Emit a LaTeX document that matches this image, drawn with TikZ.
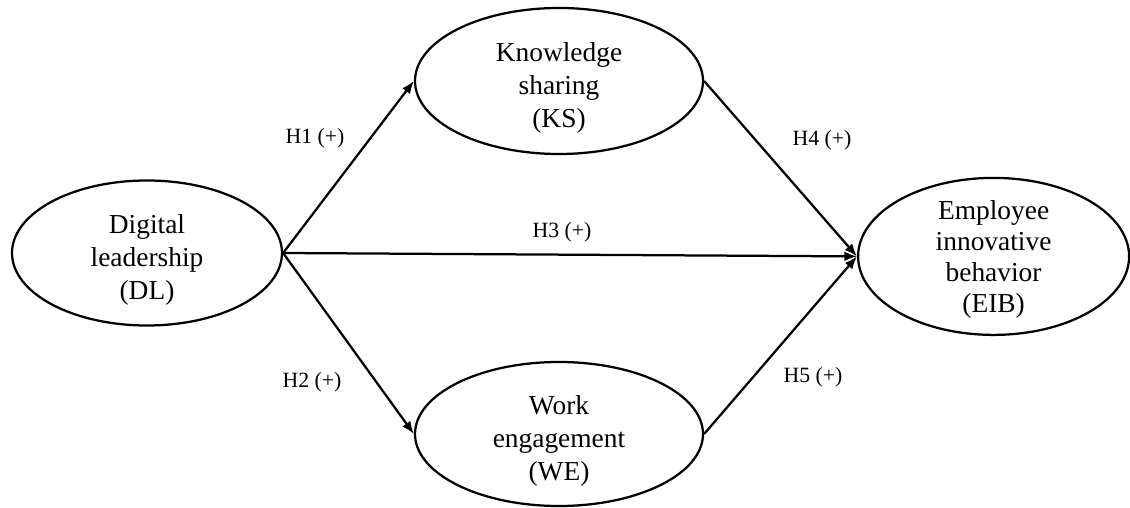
\documentclass[tikz,border=0pt]{standalone}
\usepackage{fontspec}
\setmainfont{Liberation Serif}
\usetikzlibrary{shapes.geometric,arrows.meta}

\begin{document}
\begin{tikzpicture}[
        construct/.style={ellipse, draw, line width=1.6pt, inner sep=0pt},
        inside/.style={align=center, yshift=-5pt, font=\fontsize{19.5}{23.5}\selectfont},
        path/.style={line width=1.6pt, -{Latex[length=9pt,width=7pt]}},
        hyp/.style={font=\fontsize{15.5}{18}\selectfont}
    ]
        \useasboundingbox (0,0) rectangle (28.25,12.7);

        \node[construct, minimum width=6.75cm, minimum height=3.625cm,
            label={[inside]center:Digital\\leadership\\(DL)}] (dl) at (3.675,6.375) {};
        \node[construct, minimum width=7.2cm, minimum height=3.65cm,
            label={[inside]center:Knowledge\\sharing\\(KS)}] (ks) at (13.975,10.675) {};
        \node[construct, minimum width=7.2cm, minimum height=3.6cm,
            label={[inside]center:Work\\engagement\\(WE)}] (we) at (13.975,1.85) {};
        \node[construct, minimum width=6.775cm, minimum height=3.925cm,
            label={[inside, yshift=3pt, font=\fontsize{19.5}{22}\selectfont]center:Employee\\innovative\\behavior\\(EIB)}] (eib) at (24.84,6.29) {};

        \draw[path] (dl.east) -- (ks.west);
        \draw[path] (dl.east) -- (we.west);
        \draw[path] (dl.east) -- (eib.west);
        \draw[path] (ks.east) -- (eib.west);
        \draw[path] (we.east) -- (eib.west);

        \node[hyp] (h1) at (7.875,9.25) {H1 (+)};
        \node[hyp] (h2) at (7.8,3.15) {H2 (+)};
        \node[hyp] (h3) at (14.05,6.9) {H3 (+)};
        \node[hyp] (h4) at (20.55,9.2) {H4 (+)};
        \node[hyp] (h5) at (20.325,3.275) {H5 (+)};
    \end{tikzpicture}
\end{document}
